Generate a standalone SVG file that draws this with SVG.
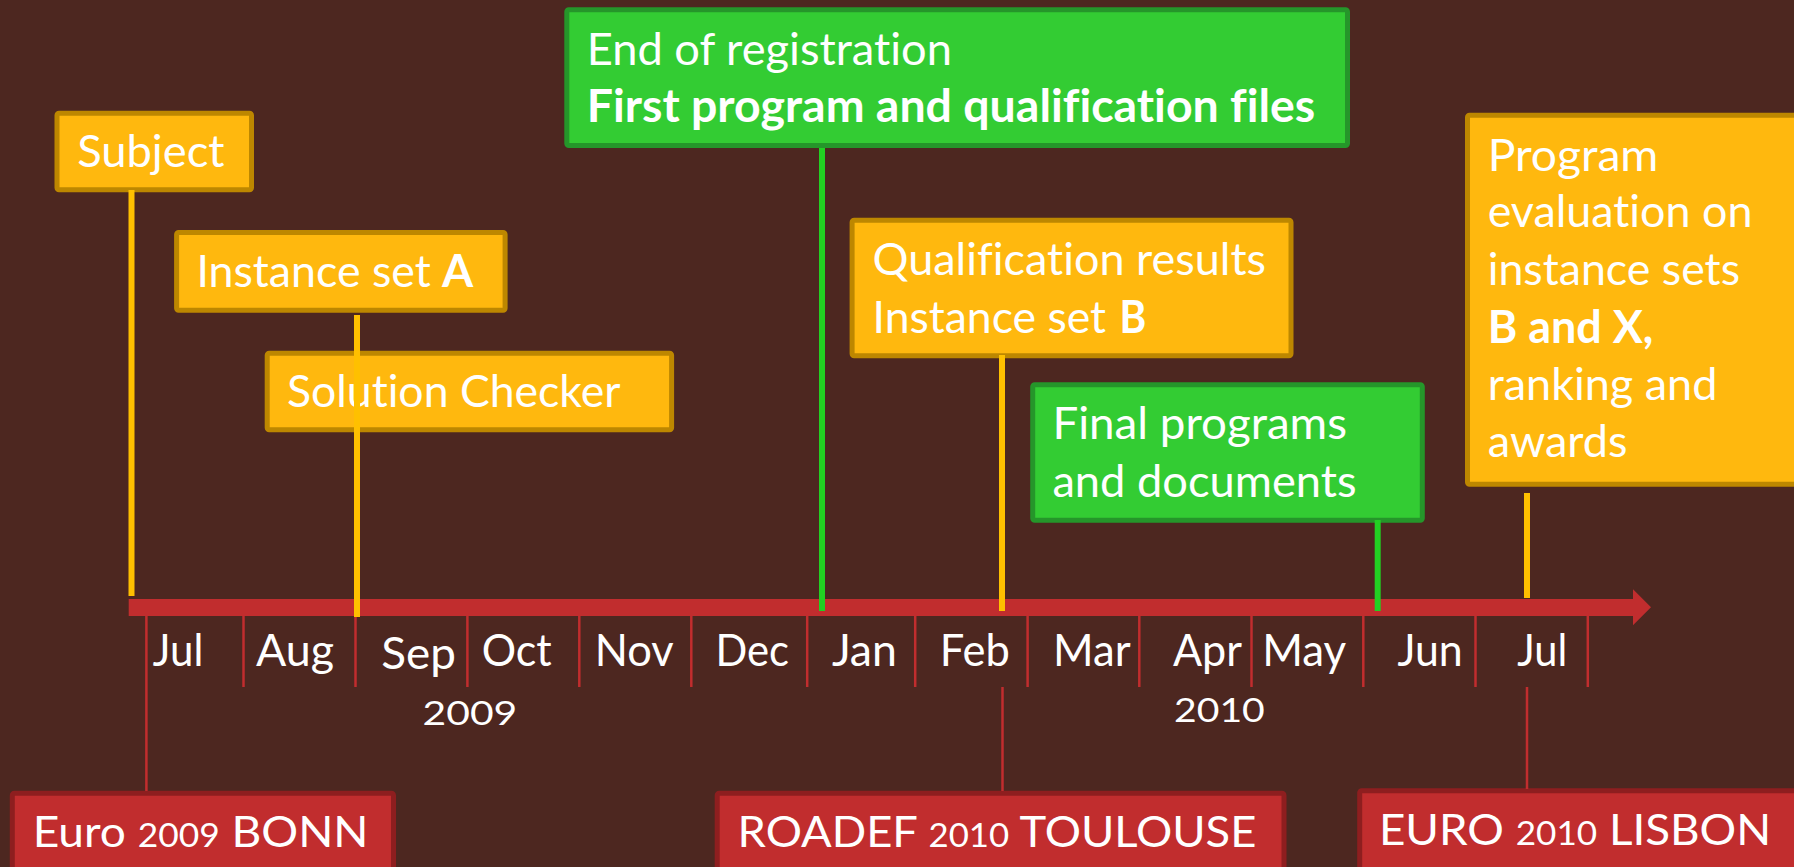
<svg xmlns="http://www.w3.org/2000/svg" width="1794" height="867" viewBox="0 0 1794 867">
<style>
.bg{fill:#4D2720}
.orange{fill:#FFB80E;stroke:#BD8700;stroke-width:5}
.green{fill:#33CC33;stroke:#25962A;stroke-width:5}
.red{fill:#C12D2E;stroke:#8E1E1F;stroke-width:5}
.t{font-family:Lato,"Open Sans","Liberation Sans",sans-serif;font-size:45px;fill:#FFFFFF;font-variant-ligatures:no-common-ligatures}
.b{font-weight:bold}
.m{font-family:Lato,"Open Sans","Liberation Sans",sans-serif;font-size:45px;fill:#FFFFFF}
.y{font-family:Lato,"Open Sans","Liberation Sans",sans-serif;font-size:33px;fill:#FFFFFF}
.bt{font-family:Lato,"Open Sans","Liberation Sans",sans-serif;font-size:43px;fill:#FFFFFF}
.os{font-size:33px}
.ly{stroke:#FFC000;stroke-width:6;fill:none}
.lg{stroke:#22D022;stroke-width:6;fill:none}
.lr{stroke:#C12D2E;stroke-width:2.5;fill:none}
.axis{fill:#C12D2E}
</style>
<rect class="bg" x="0" y="0" width="1794" height="867"/>

<g id="timeline">
  <path class="axis" d="M128.7,599 H1633 V589.3 L1651,607.3 L1633,625.3 V616 H128.7 Z"/>
  <g class="lr">
    <line x1="243.5" y1="616" x2="243.5" y2="687"/>
    <line x1="355.5" y1="616" x2="355.5" y2="687"/>
    <line x1="467.4" y1="616" x2="467.4" y2="687"/>
    <line x1="579.3" y1="616" x2="579.3" y2="687"/>
    <line x1="691.3" y1="616" x2="691.3" y2="687"/>
    <line x1="807.2" y1="616" x2="807.2" y2="687"/>
    <line x1="915.2" y1="616" x2="915.2" y2="687"/>
    <line x1="1027.6" y1="616" x2="1027.6" y2="687"/>
    <line x1="1139.3" y1="616" x2="1139.3" y2="687"/>
    <line x1="1251.5" y1="616" x2="1251.5" y2="687"/>
    <line x1="1363.3" y1="616" x2="1363.3" y2="687"/>
    <line x1="1475.5" y1="616" x2="1475.5" y2="687"/>
    <line x1="1587.8" y1="616" x2="1587.8" y2="687"/>
  </g>
  <text class="m" x="152.8" y="665.7" textLength="50.5" lengthAdjust="spacingAndGlyphs">Jul</text>
  <text class="m" x="256.1" y="665.7" textLength="78" lengthAdjust="spacingAndGlyphs">Aug</text>
  <text class="m" x="381.3" y="669" textLength="74.6" lengthAdjust="spacingAndGlyphs">Sep</text>
  <text class="m" x="481.7" y="665.7" textLength="70" lengthAdjust="spacingAndGlyphs">Oct</text>
  <text class="m" x="594.8" y="665.7" textLength="79" lengthAdjust="spacingAndGlyphs">Nov</text>
  <text class="m" x="715.4" y="665.7" textLength="73.5" lengthAdjust="spacingAndGlyphs">Dec</text>
  <text class="m" x="831.9" y="665.7" textLength="65" lengthAdjust="spacingAndGlyphs">Jan</text>
  <text class="m" x="939.8" y="665.7" textLength="70" lengthAdjust="spacingAndGlyphs">Feb</text>
  <text class="m" x="1053" y="665.7" textLength="77.6" lengthAdjust="spacingAndGlyphs">Mar</text>
  <text class="m" x="1173" y="665.7" textLength="69" lengthAdjust="spacingAndGlyphs">Apr</text>
  <text class="m" x="1262.2" y="665.7" textLength="84" lengthAdjust="spacingAndGlyphs">May</text>
  <text class="m" x="1397.4" y="665.7" textLength="65.3" lengthAdjust="spacingAndGlyphs">Jun</text>
  <text class="m" x="1517.3" y="665.7" textLength="50" lengthAdjust="spacingAndGlyphs">Jul</text>
  <text class="y" x="422.6" y="725" textLength="94.7" lengthAdjust="spacingAndGlyphs">2009</text>
  <text class="y" x="1174" y="721.7" textLength="90.8" lengthAdjust="spacingAndGlyphs">2010</text>
</g>

<g id="node-subject">
  <rect class="orange" x="57" y="113.2" width="194.5" height="76.6" rx="2"/>
  <text class="t" x="77.2" y="167.3" textLength="147.3" lengthAdjust="spacingAndGlyphs">Subject</text>
</g>
<g id="node-instance-a">
  <rect class="orange" x="176.6" y="232.5" width="328.5" height="77.7" rx="2"/>
  <text class="t" x="196.4" y="287.3" textLength="234.4" lengthAdjust="spacingAndGlyphs">Instance set</text>
  <text class="t b" x="442" y="287.3" textLength="31.2" lengthAdjust="spacingAndGlyphs">A</text>
</g>
<g id="node-solution-checker">
  <rect class="orange" x="267.2" y="353.2" width="404.4" height="76.6" rx="2"/>
  <text class="t" x="287" y="406.7" textLength="333.5" lengthAdjust="spacingAndGlyphs">Solution Checker</text>
</g>
<g id="node-registration">
  <rect class="green" x="566.8" y="9.8" width="780.7" height="135.7" rx="2"/>
  <text class="t" x="586.7" y="65" textLength="365.3" lengthAdjust="spacingAndGlyphs">End of registration</text>
  <text class="t b" x="586.7" y="121.7" textLength="728.6" lengthAdjust="spacingAndGlyphs">First program and qualification files</text>
</g>
<g id="node-qualification">
  <rect class="orange" x="852.1" y="220.2" width="438.9" height="135.6" rx="2"/>
  <text class="t" x="872.5" y="275" textLength="393.5" lengthAdjust="spacingAndGlyphs">Qualification results</text>
  <text class="t" x="872.5" y="333.3" textLength="233.5" lengthAdjust="spacingAndGlyphs">Instance set</text>
  <text class="t b" x="1119.4" y="333.3" textLength="26.8" lengthAdjust="spacingAndGlyphs">B</text>
</g>
<g id="node-final">
  <rect class="green" x="1032.7" y="384.8" width="389.6" height="135.4" rx="2"/>
  <text class="t" x="1052.4" y="439" textLength="294.6" lengthAdjust="spacingAndGlyphs">Final programs</text>
  <text class="t" x="1052.4" y="496.7" textLength="304.2" lengthAdjust="spacingAndGlyphs">and documents</text>
</g>
<g id="node-evaluation">
  <rect class="orange" x="1467.5" y="115.2" width="400" height="369" rx="2"/>
  <text class="t" x="1487.7" y="170.7" textLength="170.7" lengthAdjust="spacingAndGlyphs">Program</text>
  <text class="t" x="1487.7" y="227.3" textLength="264.7" lengthAdjust="spacingAndGlyphs">evaluation on</text>
  <text class="t" x="1487.7" y="285" textLength="252.3" lengthAdjust="spacingAndGlyphs">instance sets</text>
  <text class="t b" x="1487.7" y="342.7" textLength="165.7" lengthAdjust="spacingAndGlyphs">B and X,</text>
  <text class="t" x="1487.7" y="400" textLength="229.7" lengthAdjust="spacingAndGlyphs">ranking and</text>
  <text class="t" x="1487.7" y="457.3" textLength="139.7" lengthAdjust="spacingAndGlyphs">awards</text>
</g>
<g id="node-bonn">
  <rect class="red" x="12.3" y="793.2" width="381.2" height="100" rx="2"/>
  <text class="bt" x="32.7" y="847.3" textLength="335.8" lengthAdjust="spacingAndGlyphs">Euro <tspan class="os">2009</tspan> BONN</text>
</g>
<g id="node-toulouse">
  <rect class="red" x="717.2" y="793.2" width="566.8" height="100" rx="2"/>
  <text class="bt" x="737.6" y="847.3" textLength="518.7" lengthAdjust="spacingAndGlyphs">ROADEF <tspan class="os">2010</tspan> TOULOUSE</text>
</g>
<g id="node-lisbon">
  <rect class="red" x="1359.7" y="790.8" width="500" height="100" rx="2"/>
  <text class="bt" x="1378.9" y="845" textLength="392.3" lengthAdjust="spacingAndGlyphs">EURO <tspan class="os">2010</tspan> LISBON</text>
</g>

<g id="connectors">
  <line class="ly" x1="131.5" y1="190" x2="131.5" y2="596"/>
  <line class="ly" x1="357" y1="315" x2="357" y2="617"/>
  <line class="lg" x1="822" y1="148" x2="822" y2="611"/>
  <line class="ly" x1="1002" y1="355" x2="1002" y2="611"/>
  <line class="lg" x1="1377.7" y1="520" x2="1377.7" y2="611"/>
  <line class="ly" x1="1527" y1="493" x2="1527" y2="598"/>
  <line class="lr" x1="146.4" y1="616" x2="146.4" y2="791"/>
  <line class="lr" x1="1002.5" y1="687" x2="1002.5" y2="791"/>
  <line class="lr" x1="1527" y1="687" x2="1527" y2="789"/>
</g>
</svg>
